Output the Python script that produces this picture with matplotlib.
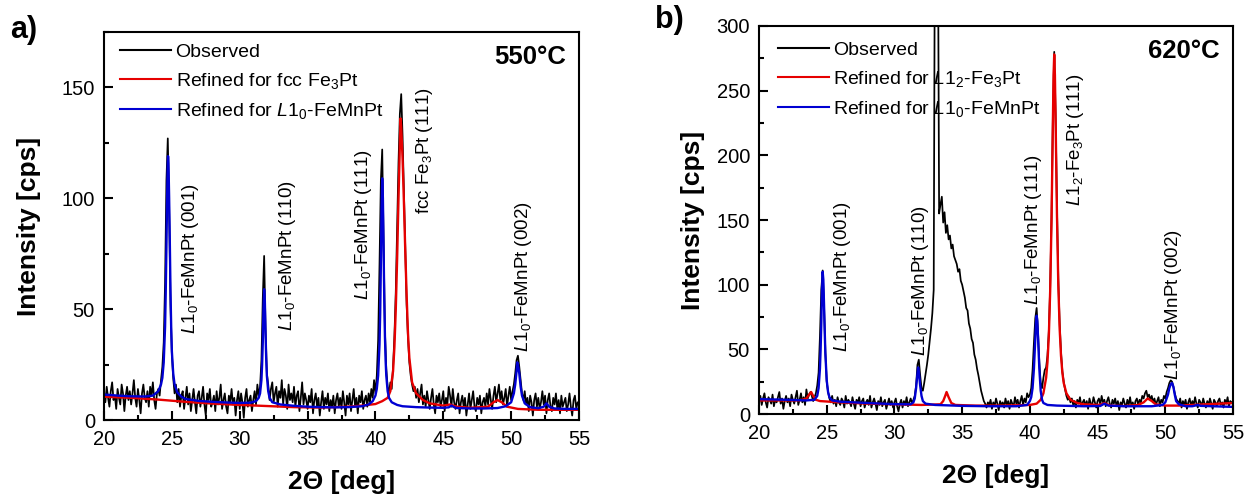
import numpy as np
import matplotlib
matplotlib.use("Agg")
import matplotlib.pyplot as plt
from matplotlib.ticker import MultipleLocator

plt.rcParams["font.family"] = ["Liberation Sans", "DejaVu Sans"]
plt.rcParams["mathtext.fontset"] = "custom"
plt.rcParams["mathtext.rm"] = "Liberation Sans"
plt.rcParams["mathtext.it"] = "Liberation Sans:italic"
plt.rcParams["mathtext.bf"] = "Liberation Sans:bold"

# ---------------- measured patterns (2theta = 20.0 ... 55.0, step 0.1) ----------------
two_theta = np.round(20.0 + 0.1 * np.arange(351), 1)

obs_550 = [
    12, 8, 15, 10, 6, 13, 17, 9, 11, 5,
    14, 10, 7, 16, 12, 4, 11, 15, 9, 13,
    7, 12, 18, 10, 6, 14, 9, 3, 12, 16,
    10, 8, 13, 6, 15, 11, 17, 9, 5, 12,
    14, 11, 18, 24, 35, 62, 108, 127, 96, 52,
    30, 19, 12, 16, 8, 14, 6, 11, 13, 5,
    10, 15, 7, 12, 4, 9, 14, 8, 3, 11,
    13, 6, 10, 15, 7, 2, 12, 9, 14, 6,
    8, 11, 4, 13, 7, 10, 16, 5, 9, 12,
    6, 3, 11, 8, 14, 7, 10, 2, 9, 13,
    5, 12, 8, 1, 10, 14, 6, 9, 11, 4,
    9, 13, 7, 16, 11, 15, 27, 55, 74, 42,
    21, 16, 9, 14, 17, 8, 12, 15, 6, 13,
    10, 18, 7, 14, 11, 5, 16, 9, 12, 8,
    15, 6, 11, 13, 4, 10, 17, 7, 12, 9,
    5, 11, 8, 14, 3, 9, 12, 6, 10, 2,
    8, 13, 5, 10, 7, 12, 4, 9, 6, 11,
    3, 9, 12, 6, 10, 5, 13, 8, 2, 11,
    7, 12, 4, 9, 14, 6, 10, 3, 11, 8,
    13, 5, 9, 11, 6, 12, 8, 14, 10, 18,
    12, 20, 36, 70, 108, 122, 80, 40, 23, 15,
    12, 17, 14, 24, 38, 58, 86, 116, 138, 147,
    128, 102, 75, 52, 37, 26, 20, 16, 13, 15,
    10, 14, 8, 12, 16, 7, 11, 6, 13, 9,
    5, 10, 14, 7, 3, 11, 8, 12, 6, 9,
    13, 4, 10, 7, 15, 11, 6, 14, 8, 5,
    9, 12, 3, 8, 11, 6, 10, 2, 7, 12,
    5, 9, 13, 6, 4, 10, 7, 11, 3, 8,
    10, 6, 12, 7, 14, 9, 5, 11, 15, 8,
    12, 16, 9, 13, 7, 10, 14, 6, 11, 15,
    9, 13, 16, 21, 27, 29, 24, 18, 12, 9,
    13, 7, 10, 4, 11, 8, 2, 9, 12, 6,
    10, 5, 8, 13, 7, 11, 3, 9, 12, 6,
    4, 10, 7, 12, 5, 9, 3, 11, 6, 8,
    10, 4, 7, 12, 6, 2, 9, 11, 5, 8,
    7,
]

obs_620 = [
    10, 14, 7, 12, 16, 9, 5, 13, 11, 8,
    15, 6, 11, 9, 13, 17, 8, 12, 4, 10,
    14, 9, 12, 6, 15, 11, 8, 13, 18, 7,
    11, 16, 9, 13, 7, 19, 12, 15, 17, 14,
    10, 13, 16, 22, 32, 60, 96, 111, 85, 48,
    25, 17, 12, 9, 14, 8, 11, 6, 13, 9,
    7, 12, 10, 5, 14, 8, 11, 9, 6, 13,
    8, 4, 11, 9, 13, 6, 10, 12, 5, 9,
    11, 7, 14, 5, 9, 12, 8, 3, 10, 7,
    13, 6, 9, 11, 4, 8, 12, 7, 10, 5,
    9, 12, 6, 2, 8, 11, 5, 10, 7, 13,
    6, 9, 12, 8, 11, 14, 22, 38, 42, 30,
    20, 18, 24, 31, 38, 46, 56, 66, 78, 96,
    420, 430, 405, 155, 162, 168, 148, 156, 140, 146,
    135, 138, 128, 131, 122, 119, 116, 110, 112, 103,
    100, 95, 90, 82, 80, 70, 66, 58, 55, 46,
    42, 35, 30, 24, 18, 14, 10, 8, 5, 9,
    7, 11, 4, 9, 6, 12, 8, 3, 10, 7,
    9, 5, 12, 7, 10, 4, 11, 8, 6, 13,
    8, 11, 5, 10, 14, 7, 12, 9, 16, 13,
    15, 20, 34, 55, 74, 82, 64, 40, 24, 20,
    28, 34, 36, 45, 64, 98, 152, 230, 280, 232,
    160, 104, 70, 48, 33, 25, 19, 14, 11, 13,
    9, 12, 7, 10, 5, 11, 8, 13, 6, 9,
    11, 6, 10, 4, 12, 8, 7, 13, 9, 5,
    10, 12, 7, 14, 9, 11, 6, 10, 13, 8,
    5, 11, 8, 12, 6, 10, 3, 9, 7, 12,
    8, 5, 11, 7, 13, 6, 9, 4, 10, 12,
    7, 11, 9, 14, 12, 16, 18, 13, 15, 11,
    14, 9, 12, 7, 10, 13, 6, 11, 9, 14,
    12, 17, 20, 24, 26, 25, 21, 16, 12, 10,
    8, 12, 5, 10, 7, 11, 4, 9, 12, 6,
    10, 7, 13, 8, 5, 11, 9, 6, 12, 8,
    5, 10, 7, 12, 8, 4, 11, 9, 6, 10,
    12, 7, 9, 5, 11, 8, 13, 6, 10, 9,
    8,
]

# ---------------- refined profiles, 550 C ----------------
fe3pt_550_x = [20, 22, 24, 26, 28, 30, 32, 34, 36, 38, 39, 40.0, 40.5, 40.9, 41.1,
               41.3, 41.4, 41.5, 41.6, 41.7, 41.8, 41.85, 41.9, 42.0, 42.1, 42.2,
               42.3, 42.4, 42.5, 42.7, 43.0, 43.5, 44, 45, 45.5, 46, 47, 48.3, 48.7,
               49.0, 49.3, 49.7, 50.5, 52, 55]
fe3pt_550_y = [10.5, 10, 9.2, 8.2, 7.4, 6.8, 6.3, 5.8, 5.6, 6.0, 6.5, 7.2, 8.5, 10, 13,
               22, 33, 50, 73, 100, 124, 136, 132, 118, 98, 76,
               56, 39, 28, 17, 12, 9, 7.5, 6.5, 7, 6, 5.5, 6, 8,
               9, 8, 6, 5, 4.6, 4.6]

femnpt_550_x = [20, 21, 22, 23, 23.6, 24.0, 24.2, 24.3, 24.4, 24.5, 24.55, 24.6, 24.65,
                24.7, 24.72, 24.75, 24.8, 24.85, 24.9, 24.95, 25.0, 25.1, 25.2, 25.4,
                25.7, 26, 27, 28, 29, 30, 30.8, 31.2, 31.4, 31.5, 31.6, 31.65, 31.7,
                31.75, 31.8, 31.85, 31.9, 31.95, 32.0, 32.1, 32.2, 32.4, 33, 34, 35,
                36, 37, 38, 39, 39.5, 39.8, 40.0, 40.1, 40.2, 40.3, 40.35, 40.4, 40.45,
                40.5, 40.55, 40.6, 40.65, 40.7, 40.75, 40.8, 40.9, 41.0, 41.2, 41.6,
                42, 43, 44, 45, 45.4, 45.6, 45.8, 46, 47, 48, 49, 49.6, 50.0, 50.2,
                50.3, 50.4, 50.45, 50.5, 50.6, 50.7, 50.8, 51.0, 51.4, 52, 52.4, 52.6,
                52.8, 53.2, 54, 55]
femnpt_550_y = [11.5, 11, 10.7, 10.6, 11, 13, 16, 19, 26, 42, 58, 78, 100,
                116, 119, 116, 100, 80, 58, 42, 31, 21, 16, 12.5,
                10.5, 9.5, 8.6, 8.2, 7.9, 7.7, 7.8, 8.5, 10, 12, 18, 25, 35,
                50, 59, 54, 40, 28, 20, 13, 10, 8, 7, 6.4, 6,
                5.8, 5.7, 5.8, 6.2, 7, 8.5, 11, 14, 20, 34, 48, 70, 95,
                109, 100, 78, 55, 38, 27, 20, 13, 10, 8, 6.8,
                6.2, 5.8, 5.6, 5.5, 5.7, 6.5, 5.8, 5.4, 5.2, 5.2, 5.4, 6.2, 8, 12,
                16, 22, 26, 25, 21, 15, 11, 7.5, 5.8, 5.3, 6, 7.5,
                6, 5.2, 5, 5]

# ---------------- refined profiles, 620 C ----------------
fe3pt_620_x = [20, 23.0, 23.5, 23.7, 23.85, 24.0, 24.2, 24.5, 26, 28, 30, 32, 33.4,
               33.6, 33.75, 33.85, 34.0, 34.2, 34.5, 36, 38, 40, 40.5, 40.8, 41.0,
               41.2, 41.3, 41.4, 41.5, 41.6, 41.7, 41.75, 41.8, 41.85, 41.9, 42.0,
               42.1, 42.2, 42.3, 42.4, 42.5, 42.7, 43.0, 43.5, 44, 45, 45.3, 45.5,
               45.7, 46, 47, 48, 48.4, 48.7, 49.0, 49.3, 50, 51, 52, 53, 54, 55]
fe3pt_620_y = [10.5, 10.5, 12, 15, 17, 14, 11, 10, 9, 8, 7.5, 7, 7.5,
               10, 14, 17, 13, 8.5, 7, 6.5, 6.5, 7, 8, 11, 16,
               28, 40, 60, 95, 150, 225, 262, 278, 262, 228, 155,
               100, 66, 45, 32, 24, 16, 11, 8.5, 7.5, 7, 7.5, 8.5,
               7.5, 6.5, 6.2, 7, 9, 12, 10, 7.5, 6.5, 6.5, 7, 7.5, 8, 8.5]

femnpt_620_x = [20, 22, 23.5, 24.1, 24.3, 24.4, 24.5, 24.55, 24.6, 24.65, 24.7, 24.75,
                24.8, 24.85, 24.9, 25.0, 25.1, 25.2, 25.4, 26, 28, 30, 31.2, 31.4,
                31.5, 31.6, 31.7, 31.75, 31.8, 31.9, 32.0, 32.1, 32.3, 33, 35, 37, 39,
                39.8, 40.0, 40.1, 40.2, 40.3, 40.4, 40.45, 40.5, 40.55, 40.6, 40.7,
                40.8, 40.9, 41.0, 41.3, 42, 44, 45.2, 45.5, 45.8, 47, 49, 49.8, 50.0,
                50.2, 50.3, 50.4, 50.5, 50.6, 50.7, 50.8, 51.0, 51.5, 52, 52.4, 52.6,
                55]
femnpt_620_y = [11.5, 11, 10.5, 11, 14, 20, 35, 50, 70, 95, 110, 104,
                85, 65, 47, 26, 17, 13, 10.5, 9.5, 8.5, 7.6, 7.5, 9,
                12, 20, 31, 36, 33, 22, 14, 10, 8, 7, 6.3, 6, 6,
                7, 10, 13, 20, 35, 58, 70, 76, 72, 60, 35,
                18, 11, 8.5, 7, 6.5, 6, 6.2, 8, 6.5, 6, 6, 7, 9,
                15, 20, 23, 24, 21, 15, 10, 7.5, 6, 6, 7, 6.3,
                5.5]

# ---------------- peak labels ----------------
L10 = r"$\mathit{L1_0}$-FeMnPt"
labels_550 = [(26.35, 39, L10 + " (001)"), (33.55, 40, L10 + " (110)"),
              (39.1, 54, L10 + " (111)"), (43.65, 93, r"fcc Fe$_3$Pt (111)"),
              (50.9, 30.5, L10 + " (002)")]
labels_620 = [(26.2, 47.7, L10 + " (001)"), (31.9, 45, L10 + " (110)"),
              (40.3, 84, L10 + " (111)"), (43.4, 161, r"$\mathit{L1_2}$-Fe$_3$Pt (111)"),
              (50.6, 26, L10 + " (002)")]

BLACK, RED, BLUE = "#000000", "#e60000", "#0000d2"

W, H = 1250, 497
fig = plt.figure(figsize=(W / 100, H / 100), dpi=100)


def px_axes(left, top, right, bottom):
    return fig.add_axes([left / W, 1 - bottom / H, (right - left) / W, (bottom - top) / H])


def style(ax, ymax, ymajor):
    ax.set_xlim(20, 55)
    ax.set_ylim(0, ymax)
    ax.xaxis.set_major_locator(MultipleLocator(5))
    ax.xaxis.set_minor_locator(MultipleLocator(2.5))
    ax.yaxis.set_major_locator(MultipleLocator(ymajor))
    ax.yaxis.set_minor_locator(MultipleLocator(ymajor / 2))
    ax.tick_params(which="both", direction="in", width=1.5, labelsize=14.5,
                   top=False, right=False)
    ax.tick_params(which="major", length=6.5)
    ax.tick_params(which="minor", length=3.5)
    ax.tick_params(axis="x", pad=7)
    ax.tick_params(axis="y", pad=6.5)
    for s in ax.spines.values():
        s.set_linewidth(1.5)
    ax.set_facecolor("none")


def panel(ax, obs, red_x, red_y, blue_x, blue_y, red_label, labels, temp,
          ymax, ymajor, ylab_x, leg_anchor):
    ax.plot(two_theta, obs, color=BLACK, lw=1.25, label="Observed")
    ax.plot(red_x, red_y, color=RED, lw=1.7, label=red_label)
    ax.plot(blue_x, blue_y, color=BLUE, lw=1.7,
            label=r"Refined for $\mathit{L1_0}$-FeMnPt")
    style(ax, ymax, ymajor)
    for x, y, s in labels:
        ax.text(x, y, s, rotation=90, ha="center", va="bottom", fontsize=13.5)
    ax.text(0.972, 0.935, temp, transform=ax.transAxes, ha="right", va="center",
            fontsize=18.5, fontweight="bold")
    leg = ax.legend(loc="upper left", bbox_to_anchor=leg_anchor, frameon=False,
                    fontsize=14, handlelength=2.6, handletextpad=0.25,
                    borderpad=0, borderaxespad=0, labelspacing=0.5)
    for ln in leg.get_lines():
        ln.set_linewidth(1.5)
    ax.set_xlabel("2\u0398 [deg]", fontsize=19, fontweight="bold", va="center")
    ax.xaxis.set_label_coords(0.5, -0.16)
    ax.set_ylabel("Intensity [cps]", fontsize=19, fontweight="bold", va="center")
    ax.yaxis.set_label_coords(ylab_x, 0.5)


ax_a = px_axes(104, 32, 579, 420)
panel(ax_a, obs_550, fe3pt_550_x, fe3pt_550_y, femnpt_550_x, femnpt_550_y,
      r"Refined for fcc Fe$_3$Pt", labels_550, "550\u00b0C", 175, 50, -0.158,
      (0.034, 0.97))

ax_b = px_axes(759, 26, 1233, 414)
panel(ax_b, obs_620, fe3pt_620_x, fe3pt_620_y, femnpt_620_x, femnpt_620_y,
      r"Refined for $\mathit{L1_2}$-Fe$_3$Pt", labels_620, "620\u00b0C", 300, 50, -0.139,
      (0.04, 0.96))

fig.text(10 / W, 1 - 30 / H, "a)", fontsize=22, fontweight="bold", va="center", ha="left")
fig.text(655 / W, 1 - 20 / H, "b)", fontsize=22, fontweight="bold", va="center", ha="left")

fig.savefig("out.png", dpi=100)
